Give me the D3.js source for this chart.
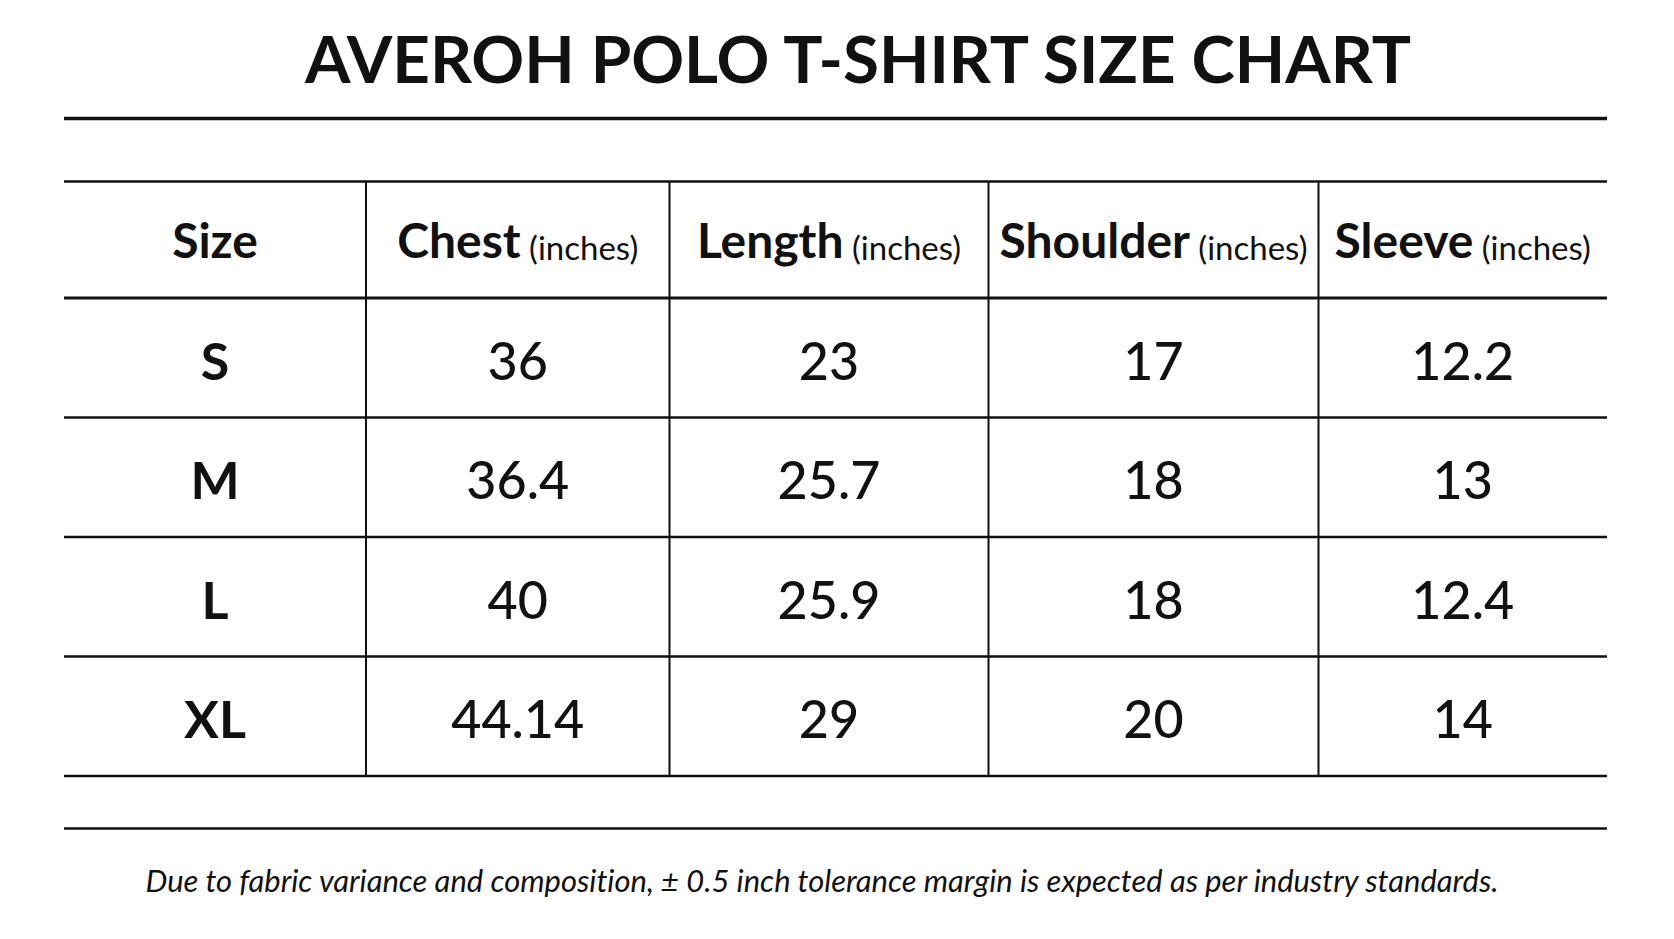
<!DOCTYPE html>
<html>
<head>
<meta charset="utf-8">
<script src="https://cdn.jsdelivr.net/npm/d3@7"></script>
<style>
  html, body { margin: 0; padding: 0; background: #fff; }
  svg { display: block; }
  text { font-variant-ligatures: none; }
</style>
</head>
<body>
<div id="chart"></div>
<script>
// table content
var title = "AVEROH POLO T-SHIRT SIZE CHART";
var footnote = "Due to fabric variance and composition, \u00b1 0.5 inch tolerance margin is expected as per industry standards.";
var columns = ["Size", "Chest", "Length", "Shoulder", "Sleeve"];
var unit = "(inches)";
var sizes = ["S", "M", "L", "XL"];
var chest = ["36", "36.4", "40", "44.14"];
var length = ["23", "25.7", "25.9", "29"];
var shoulder = ["17", "18", "18", "20"];
var sleeve = ["12.2", "13", "12.4", "14"];

var W = 1674, H = 939;
var left = 64, right = 1607;
// column edges (layout)
var edges = [64, 366, 669.5, 988.5, 1318.5, 1607];

var svg = d3.select("#chart").append("svg").attr("width", W).attr("height", H);

var colX = d3.scaleOrdinal().domain(columns).range(edges.slice(0, 5));
var colW = function(c) { var i = columns.indexOf(c); return edges[i + 1] - edges[i]; };
var rowY = d3.scaleBand().domain(sizes).range([298, 776]).padding(0);

var table = sizes.map(function(s, i) {
  return [s, chest[i], length[i], shoulder[i], sleeve[i]];
});

// title
svg.append("text")
  .attr("x", 858)
  .attr("y", 83)
  .attr("text-anchor", "middle")
  .style("font-family", "Lato, sans-serif")
  .style("font-weight", 700)
  .style("font-size", "65.5px")
  .attr("fill", "#111")
  .text(title);

// rules
var rule = function(y, w) {
  svg.append("line").attr("x1", left).attr("x2", right).attr("y1", y).attr("y2", y)
    .attr("stroke", "#111").attr("stroke-width", w);
};
rule(118.5, 3.5);
rule(181.5, 2.5);
rule(298, 3);
sizes.forEach(function(s) { rule(rowY(s) + rowY.bandwidth(), 2.5); });
rule(828.5, 2.5);

// vertical dividers
svg.selectAll("line.vdiv").data(edges.slice(1, 5)).enter().append("line")
  .attr("class", "vdiv")
  .attr("x1", function(d) { return d; }).attr("x2", function(d) { return d; })
  .attr("y1", 181.5).attr("y2", 776)
  .attr("stroke", "#111").attr("stroke-width", 2);

// header
var head = svg.selectAll("text.head").data(columns).enter().append("text")
  .attr("class", "head")
  .attr("x", function(c) { return colX(c) + colW(c) / 2; })
  .attr("y", 258)
  .attr("text-anchor", "middle")
  .style("font-family", "Lato, sans-serif")
  .attr("fill", "#111");
head.append("tspan")
  .style("font-weight", 700).style("font-size", "48px")
  .text(function(c) { return c; });
head.filter(function(c, i) { return i > 0; }).append("tspan")
  .attr("dy", 2)
  .style("font-weight", 400).style("font-size", "33px")
  .text(" " + unit);

// body cells
var rows = svg.selectAll("g.row").data(table).enter().append("g")
  .attr("class", "row")
  .attr("transform", function(d) { return "translate(0," + (rowY(d[0]) + rowY.bandwidth() / 2 + 22) + ")"; });
rows.selectAll("text").data(function(d) { return d; }).enter().append("text")
  .attr("x", function(d, i) { return colX(columns[i]) + colW(columns[i]) / 2; })
  .attr("text-anchor", "middle")
  .style("font-family", "Lato, sans-serif")
  .style("font-weight", function(d, i) { return i === 0 ? 700 : 500; })
  .style("font-size", "52px")
  .attr("fill", "#111")
  .text(function(d) { return d; });

// footnote
svg.append("text")
  .attr("x", 822)
  .attr("y", 892)
  .attr("text-anchor", "middle")
  .attr("textLength", 1353)
  .attr("lengthAdjust", "spacingAndGlyphs")
  .style("font-family", "Lato, sans-serif")
  .style("font-style", "italic")
  .style("font-size", "30px")
  .attr("fill", "#111")
  .text(footnote);
</script>
</body>
</html>
